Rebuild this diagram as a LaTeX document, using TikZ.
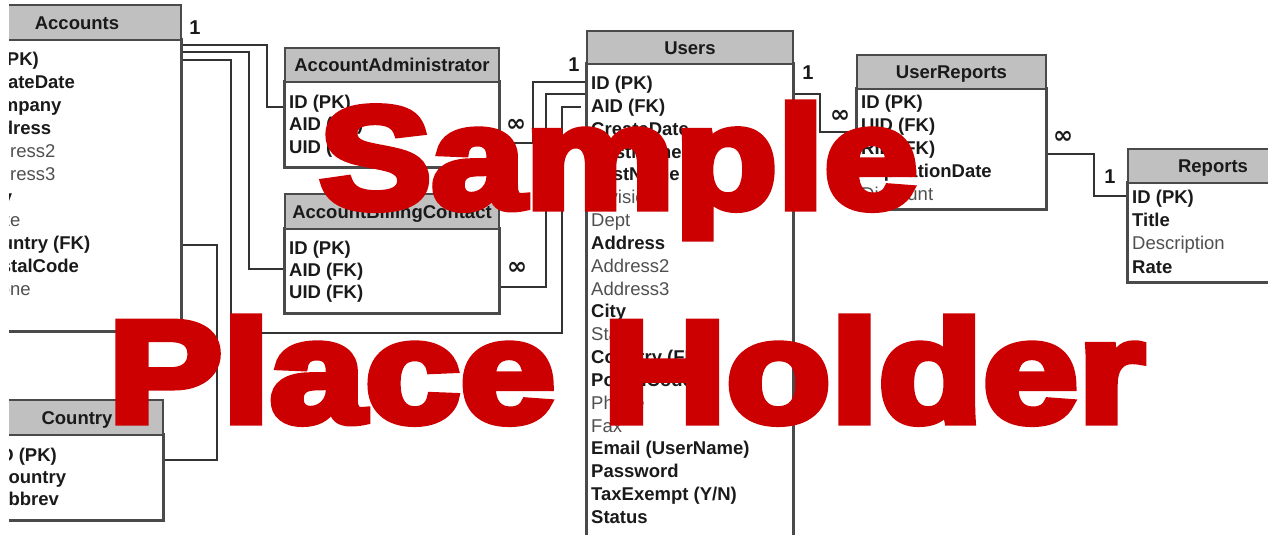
\documentclass[tikz,border=0pt]{standalone}
\usepackage{fontspec}
\usepackage{graphicx}
\setmainfont{Liberation Sans}
\newfontfamily\wmfont{Liberation Sans Bold}[FakeBold=5]
\newfontfamily\infont{DejaVu Sans Bold}
\definecolor{hdrgray}{HTML}{C0C0C0}
\definecolor{boxline}{HTML}{4A4A4A}
\definecolor{connline}{HTML}{333333}
\definecolor{txtdark}{HTML}{1A1A1A}
\definecolor{txtgray}{HTML}{505050}
\definecolor{wmred}{HTML}{CC0000}
\begin{document}
\begin{tikzpicture}[x=1pt,y=-1pt,
  hdr/.style={draw=boxline, fill=hdrgray, line width=1.8pt, inner sep=0pt,
    text height=13.5pt, text depth=0pt, text=txtdark,
    font=\fontsize{18.5pt}{22pt}\selectfont\bfseries},
  body/.style={draw=boxline, fill=white, line width=1.8pt, inner sep=0pt},
  fb/.style={anchor=base west, inner sep=0pt, text=txtdark,
    font=\fontsize{18.5pt}{22pt}\selectfont\bfseries},
  fr/.style={anchor=base west, inner sep=0pt, text=txtgray,
    font=\fontsize{18.5pt}{22pt}\selectfont},
  conn/.style={draw=connline, line width=1.4pt},
  card/.style={inner sep=0pt, text=txtdark, font=\fontsize{20pt}{22pt}\selectfont\bfseries},
  many/.style={inner sep=0pt, text=txtdark, font=\infont\fontsize{24pt}{26pt}\selectfont},
  wm/.style={anchor=base, inner sep=0pt, text=wmred,
    font=\wmfont\fontsize{145pt}{150pt}\selectfont}
]
\useasboundingbox (0,0) rectangle (1268,535);
\begin{scope}
\clip (9,0) rectangle (1268,535);

% ---------- table frames (named nodes) ----------
\node[body, minimum width=208, minimum height=291] (accb) at (77,185.5) {};
\node[body, minimum width=214, minimum height=85]  (aab)  at (392,124.5) {};
\node[body, minimum width=214, minimum height=84]  (abcb) at (392,271) {};
\node[body, minimum width=206, minimum height=496] (usrb) at (690,312) {};
\node[body, minimum width=189, minimum height=120] (urb)  at (951.5,149) {};
\node[body, minimum width=170, minimum height=99]  (repb) at (1213,232.5) {};
\node[body, minimum width=172, minimum height=85]  (cntb) at (77,477.5) {};

% ---------- connectors ----------
\draw[conn] (accb.east |- 0,45) -- (267,45) -- (267,107) -- (aab.west |- 0,107);
\draw[conn] (accb.east |- 0,52) -- (249,52) -- (249,269) -- (abcb.west |- 0,269);
\draw[conn, shorten >=5pt] (accb.east |- 0,60) -- (231,60) -- (231,333) -- (562,333) -- (562,107) -- (usrb.west |- 0,107);
\draw[conn] (accb.east |- 0,245) -- (217,245) -- (217,460) -- (cntb.east |- 0,460);
\draw[conn] (aab.east |- 0,143) -- (533,143) -- (533,82) -- (usrb.west |- 0,82);
\draw[conn] (abcb.east |- 0,287) -- (546,287) -- (546,94) -- (usrb.west |- 0,94);
\draw[conn] (usrb.east |- 0,94) -- (820,94) -- (820,132) -- (urb.west |- 0,132);
\draw[conn] (urb.east |- 0,154) -- (1094,154) -- (1094,196) -- (repb.west |- 0,196);

% redraw frames on top of connector ends
\draw[body, fill=none] (accb.north west) rectangle (accb.south east);
\draw[body, fill=none] (aab.north west) rectangle (aab.south east);
\draw[body, fill=none] (abcb.north west) rectangle (abcb.south east);
\draw[body, fill=none] (usrb.north west) rectangle (usrb.south east);
\draw[body, fill=none] (urb.north west) rectangle (urb.south east);
\draw[body, fill=none] (repb.north west) rectangle (repb.south east);
\draw[body, fill=none] (cntb.north west) rectangle (cntb.south east);

% ---------- headers ----------
\node[hdr, minimum width=208, minimum height=35] (acch) at (77,22.5) {Accounts};
\node[hdr, minimum width=214, minimum height=34] (aah)  at (392,65) {AccountAdministrator};
\node[hdr, minimum width=214, minimum height=35] (abch) at (392,211.5) {AccountBillingContact};
\node[hdr, minimum width=206, minimum height=33] (usrh) at (690,47.5) {Users};
\node[hdr, minimum width=189, minimum height=34] (urh)  at (951.5,72) {UserReports};
\node[hdr, minimum width=170, minimum height=34] (reph) at (1213,166) {Reports};
\node[hdr, minimum width=172, minimum height=35] (cnth) at (77,417.5) {Country};

% ---------- Accounts fields ----------
\node[fb] (acc1)  at (-23,65.5)  {ID (PK)};
\node[fb] (acc2)  at (-23,88.5)  {CreateDate};
\node[fb] (acc3)  at (-23,111.5) {Company};
\node[fb] (acc4)  at (-23,134.5) {Address};
\node[fr] (acc5)  at (-23,157.5) {Address2};
\node[fr] (acc6)  at (-23,180.5) {Address3};
\node[fb] (acc7)  at (-23,203.5) {City};
\node[fr] (acc8)  at (-23,226.5) {State};
\node[fb] (acc9)  at (-23,249.5) {Country (FK)};
\node[fb] (acc10) at (-23,272.5) {PostalCode};
\node[fr] (acc11) at (-23,295.5) {Phone};
\node[fr] (acc12) at (-23,318.5) {Fax};

% ---------- AccountAdministrator fields ----------
\node[fb] (aa1) at (289,108.5) {ID (PK)};
\node[fb] (aa2) at (289,130.5) {AID (FK)};
\node[fb] (aa3) at (289,153.5) {UID (FK)};

% ---------- AccountBillingContact fields ----------
\node[fb] (abc1) at (289,254.5) {ID (PK)};
\node[fb] (abc2) at (289,276.5) {AID (FK)};
\node[fb] (abc3) at (289,298.5) {UID (FK)};

% ---------- Users fields ----------
\node[fb] (u1)  at (591,89.5)  {ID (PK)};
\node[fb] (u2)  at (591,112.3) {AID (FK)};
\node[fb] (u3)  at (591,135.2) {CreateDate};
\node[fb] (u4)  at (591,158.0) {FirstName};
\node[fb] (u5)  at (591,180.9) {LastName};
\node[fr] (u6)  at (591,203.7) {Division};
\node[fr] (u7)  at (591,226.5) {Dept};
\node[fb] (u8)  at (591,249.4) {Address};
\node[fr] (u9)  at (591,272.2) {Address2};
\node[fr] (u10) at (591,295.1) {Address3};
\node[fb] (u11) at (591,317.9) {City};
\node[fr] (u12) at (591,340.7) {State};
\node[fb] (u13) at (591,363.6) {Country (FK)};
\node[fb] (u14) at (591,386.4) {PostalCode};
\node[fr] (u15) at (591,409.3) {Phone};
\node[fr] (u16) at (591,432.1) {Fax};
\node[fb] (u17) at (591,454.9) {Email (UserName)};
\node[fb] (u18) at (591,477.8) {Password};
\node[fb] (u19) at (591,500.6) {TaxExempt (Y/N)};
\node[fb] (u20) at (591,523.5) {Status};

% ---------- UserReports fields ----------
\node[fb] (ur1) at (861,108.5) {ID (PK)};
\node[fb] (ur2) at (861,131.5) {UID (FK)};
\node[fb] (ur3) at (861,154.5) {RID (FK)};
\node[fb] (ur4) at (861,177.5) {ExpirationDate};
\node[fr] (ur5) at (861,200.5) {Discount};

% ---------- Reports fields ----------
\node[fb] (r1) at (1132,203.5) {ID (PK)};
\node[fb] (r2) at (1132,226.5) {Title};
\node[fr] (r3) at (1132,249.5) {Description};
\node[fb] (r4) at (1132,273.5) {Rate};

% ---------- Country fields ----------
\node[fb] (c1) at (-5,461.5) {ID (PK)};
\node[fb] (c2) at (-5,483.5) {Country};
\node[fb] (c3) at (-5,505.5) {Abbrev};

% ---------- cardinality labels ----------
\node[card] (k1) at (195,28)  {1};
\node[many] (k2) at (516,125) {∞};
\node[many] (k3) at (517,268) {∞};
\node[card] (k4) at (574,65)  {1};
\node[card] (k5) at (808,73)  {1};
\node[many] (k6) at (840,116) {∞};
\node[many] (k7) at (1063,137) {∞};
\node[card] (k8) at (1110,177) {1};

% ---------- watermark ----------
\node[wm] (wm1) at (618.5,208) {\scalebox{1.16}[1]{Sample}};
\node[wm] (wm2) at (626.5,422) {\scalebox{1.18}[1]{Place Holder}};
\end{scope}
\end{tikzpicture}
\end{document}
